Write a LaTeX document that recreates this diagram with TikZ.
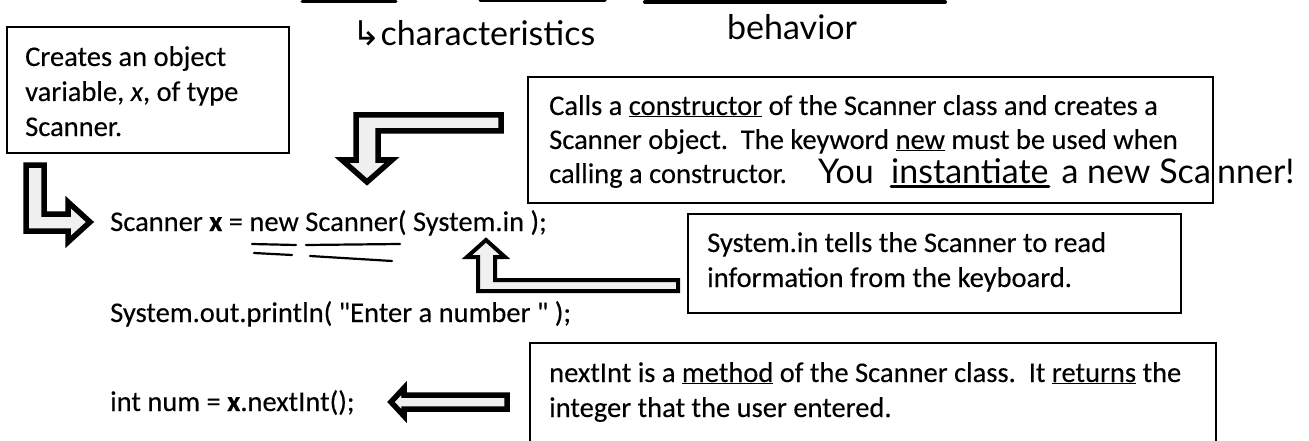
\documentclass[tikz,border=0pt]{standalone}
\usepackage{fontspec}
\setmainfont{Carlito}[Ligatures=TeXOff, FakeBold=0.25]
\newfontfamily\handfont{Lato}
\newfontfamily\symfont{DejaVu Sans}
\begin{document}
\begin{tikzpicture}[x=1pt,y=-1pt,
  box/.style={draw=black, line width=1.8pt},
  txt/.style={font=\fontsize{28.5}{35}\selectfont, inner sep=0pt, anchor=base west},
  blockarrow/.style={draw=black, line width=5.5pt, fill=black!6, line join=miter},
  thinarrow/.style={draw=black, line width=4pt, fill=black!6, line join=miter},
  hand/.style={font=\handfont\fontsize{34}{38}\selectfont, inner sep=0pt},
  ink/.style={line width=2.2pt, line cap=round}]
\useasboundingbox (0,0) rectangle (1309,441);
\fill[white] (0,0) rectangle (1309,441);

% top fragments
\draw[ink, line width=3pt] (302,2) -- (396,2);
\draw[ink, line width=3pt] (480,1) -- (605,1);
\draw[ink, line width=4pt] (645,2) -- (945,2);
\node[hand, anchor=west] (ch) at (352,33) {{\symfont ↳}characteristics};
\node[hand, anchor=west] (beh) at (727,27) {behavior};

% box 1
\draw[box] (7,27) rectangle (289,153);
\node[txt] (b1a) at (25,66) {Creates an object};
\node[txt] (b1b) at (25,101) {variable, \textit{x}, of type};
\node[txt] (b1c) at (25,136) {Scanner.};

% box 2
\draw[box] (528,77) rectangle (1213,203);
\node[txt] (b2a) at (549,115) {Calls a \underline{constructor} of the Scanner class and creates a};
\node[txt] (b2b) at (549,149) {Scanner object.\ \ The keyword \underline{new} must be used when};
\node[txt] (b2c) at (549,183) {calling a constructor.};
\node[hand, anchor=base west] (h1) at (818,183) {You};
\node[hand, anchor=base west] (h2) at (891,183) {instantiate};
\node[hand, anchor=base east] (h3) at (1211,183) {a new Sca};
\node[hand, anchor=base west] (h4) at (1217,183) {nner!};
\draw[ink, line width=3pt] ([yshift=-3pt]h2.south west) -- ([yshift=-3pt]h2.south east);

% box 3
\draw[box] (688,214) rectangle (1181,313);
\node[txt] (b3a) at (707,252) {System.in tells the Scanner to read};
\node[txt] (b3b) at (707,287) {information from the keyboard.};

% box 4
\draw[box] (530,450) -- (530,343) -- (1216,343) -- (1216,450);
\node[txt] (b4a) at (549,382) {nextInt is a \underline{method} of the Scanner class.\ \ It \underline{returns} the};
\node[txt] (b4b) at (549,417) {integer that the user entered.};

% code
\node[txt] (c1) at (110,231) {Scanner \textbf{x} = new Scanner( System.in );};
\node[txt] (c2) at (110,322) {System.out.println( "Enter a number " );};
\node[txt] (c3) at (110,411) {int num = \textbf{x}.nextInt();};

% hand underlines on code line 1
\draw[ink] (252,244) -- (296,245);
\draw[ink] (254,253) -- (292,255);
\draw[ink] (306,245) -- (400,244);
\draw[ink] (310,256) -- (392,261);

% block arrows
\draw[blockarrow] (26,165) -- (44,165) -- (44,214) -- (68,214) -- (68,202) -- (90,222) -- (68,242) -- (68,231) -- (26,231) -- cycle;
\draw[blockarrow] (356,115) -- (501,115) -- (501,131) -- (378,131) -- (378,160) -- (392,160) -- (367,182) -- (342,160) -- (356,160) -- cycle;
\draw[thinarrow] (486,240) -- (505,257) -- (495,257) -- (495,280) -- (678,280) -- (678,291) -- (478,291) -- (478,257) -- (467,257) -- cycle;
\draw[blockarrow] (391,402) -- (404,388) -- (404,395) -- (507,395) -- (507,409) -- (404,409) -- (404,416) -- cycle;
\end{tikzpicture}
\end{document}
